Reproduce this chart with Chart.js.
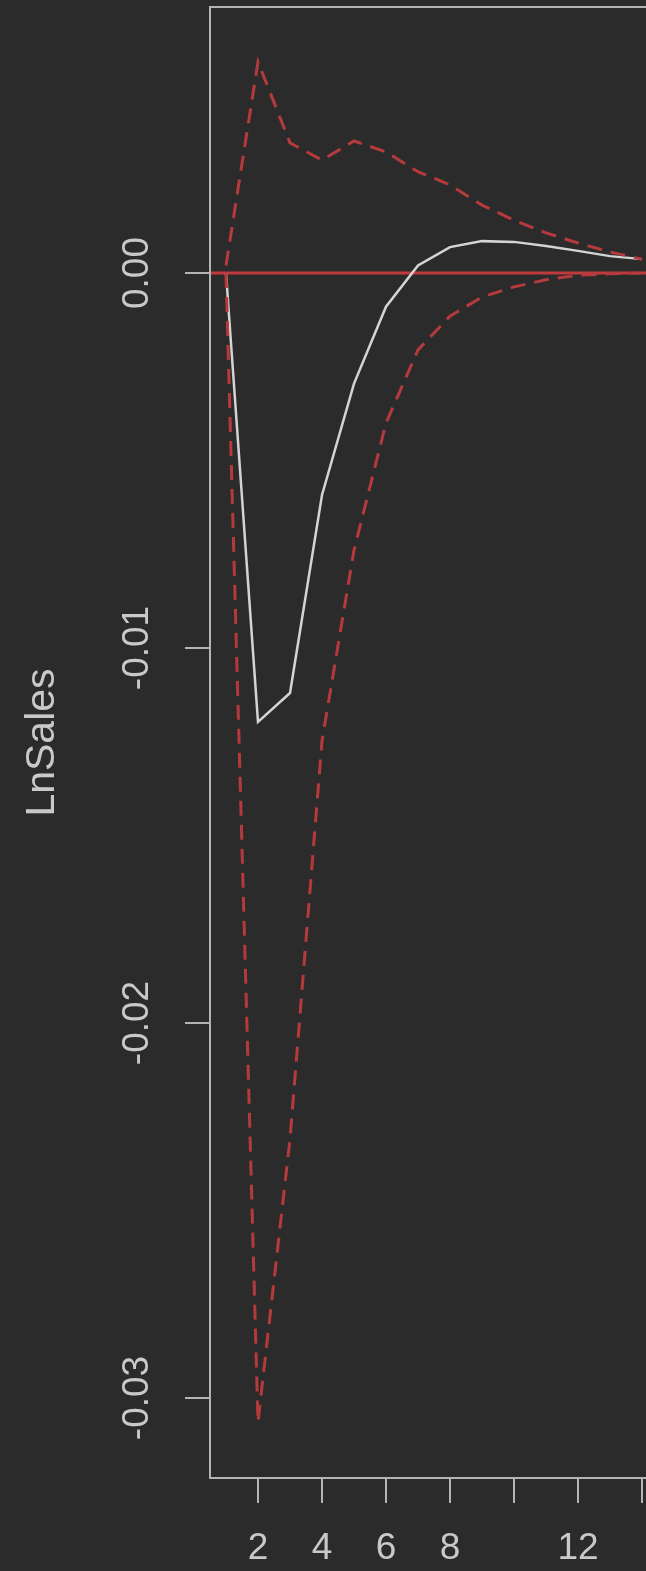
<!DOCTYPE html>
<html>
<head>
<meta charset="utf-8">
<script src="https://cdn.jsdelivr.net/npm/chart.js@4/dist/chart.umd.min.js"></script>
<style>
  html, body { margin: 0; padding: 0; background: #2b2b2b; overflow: hidden; }
  canvas { display: block; }
</style>
</head>
<body>
<canvas id="irf" width="650" height="1571"></canvas>
<script>
// Impulse response of LnSales with lower/upper confidence bands
const horizon = [1, 2, 3, 4, 5, 6, 7, 8, 9, 10, 11, 12, 13, 14];
const response = [0.0, -0.01197, -0.0112, -0.00592, -0.00295, -0.0009, 0.0002, 0.00069, 0.00085, 0.00083, 0.00072, 0.00059, 0.00045, 0.00037];
const upperBand = [0.0002, 0.00563, 0.00347, 0.00301, 0.00352, 0.00323, 0.0027, 0.00235, 0.00181, 0.00141, 0.00107, 0.0008, 0.00056, 0.00037];
const lowerBand = [0.0, -0.03064, -0.0231, -0.01248, -0.00739, -0.004, -0.00205, -0.00115, -0.00064, -0.00037, -0.00018, -0.00006, -0.00002, 0.0];
const xTicks = [2, 4, 6, 8, 10, 12, 14];
const xTickLabels = ['2', '4', '6', '8', '', '12', ''];
const yTicks = [0, -0.01, -0.02, -0.03];
const yTickLabels = ['0.00', '-0.01', '-0.02', '-0.03'];
const yTitle = 'LnSales';
const zeroLine = 0;

const BG = '#2b2b2b';
const FG = '#c9c9c9';
const AXIS = '#b4b4b4';
const RED = '#b53a3c';
const FONT = '"Liberation Sans", Arial, Helvetica, sans-serif';

const pts = (ys) => horizon.map((x, i) => ({ x, y: ys[i] }));

const frame = {
  id: 'frame',
  beforeDraw(chart) {
    const { ctx, width, height } = chart;
    ctx.save();
    ctx.fillStyle = BG;
    ctx.fillRect(0, 0, width, height);
    ctx.restore();
  },
  beforeDatasetsDraw(chart) {
    const { ctx, chartArea: a, scales: { y } } = chart;
    const yz = y.getPixelForValue(zeroLine);
    ctx.save();
    ctx.strokeStyle = '#c0393c';
    ctx.lineWidth = 3;
    ctx.beginPath();
    ctx.moveTo(a.left, yz);
    ctx.lineTo(a.right, yz);
    ctx.stroke();
    ctx.restore();
  },
  afterDraw(chart) {
    const { ctx, chartArea: a, scales: { x, y } } = chart;
    ctx.save();
    ctx.strokeStyle = AXIS;
    ctx.lineWidth = 2;
    ctx.strokeRect(a.left, a.top, a.right - a.left, a.bottom - a.top);

    ctx.fillStyle = FG;
    ctx.font = '37px ' + FONT;
    ctx.textAlign = 'center';
    ctx.textBaseline = 'middle';
    xTicks.forEach((v, i) => {
      if (xTickLabels[i]) ctx.fillText(xTickLabels[i], x.getPixelForValue(v), 1549);
    });
    yTicks.forEach((v, i) => {
      ctx.save();
      ctx.translate(138, y.getPixelForValue(v));
      ctx.rotate(-Math.PI / 2);
      ctx.fillText(yTickLabels[i], 0, 0);
      ctx.restore();
    });
    ctx.save();
    ctx.font = '41px ' + FONT;
    ctx.translate(43, (a.top + a.bottom) / 2);
    ctx.rotate(-Math.PI / 2);
    ctx.fillText(yTitle, 0, 0);
    ctx.restore();
    ctx.restore();
  }
};

new Chart(document.getElementById('irf'), {
  type: 'line',
  data: {
    datasets: [
      { data: pts(upperBand), borderColor: RED, borderWidth: 3, borderDash: [15, 9], pointRadius: 0, tension: 0, fill: false },
      { data: pts(lowerBand), borderColor: RED, borderWidth: 3, borderDash: [15, 9], pointRadius: 0, tension: 0, fill: false },
      { data: pts(response), borderColor: '#d4d4d4', borderWidth: 2.5, pointRadius: 0, tension: 0, fill: false }
    ]
  },
  options: {
    responsive: false,
    animation: false,
    events: [],
    layout: { padding: { top: 7, right: 2, left: 0, bottom: 0 } },
    plugins: { legend: { display: false }, tooltip: { enabled: false } },
    scales: {
      x: {
        type: 'linear',
        min: 0.5,
        max: 14.1875,
        afterBuildTicks: (s) => { s.ticks = xTicks.map(v => ({ value: v })); },
        afterFit: (s) => { s.height = 93; },
        ticks: { display: false },
        border: { display: false },
        grid: { drawOnChartArea: false, drawTicks: true, tickLength: 25, color: AXIS, lineWidth: 2 }
      },
      y: {
        type: 'linear',
        min: -0.032133,
        max: 0.0070933,
        afterBuildTicks: (s) => { s.ticks = yTicks.map(v => ({ value: v })); },
        afterFit: (s) => { s.width = 210; },
        ticks: { display: false },
        border: { display: false },
        grid: { drawOnChartArea: false, drawTicks: true, tickLength: 25, color: AXIS, lineWidth: 2 }
      }
    }
  },
  plugins: [frame]
});
</script>
</body>
</html>
